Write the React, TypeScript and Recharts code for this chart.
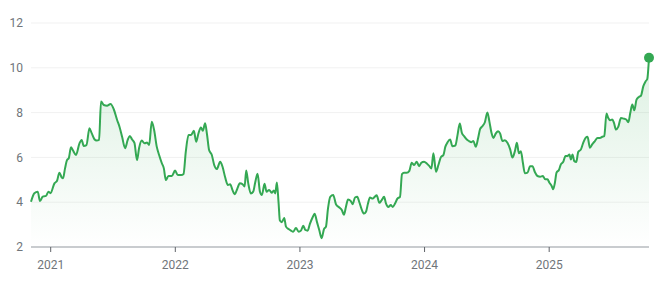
import {
  Area,
  AreaChart,
  CartesianGrid,
  ReferenceDot,
  XAxis,
  YAxis,
} from 'recharts';

// fractional year of each sample
const years = [
  2020.842, 2020.869, 2020.896, 2020.914, 2020.936, 2020.962, 2020.982, 2020.998,
  2021.03, 2021.051, 2021.07, 2021.088, 2021.099, 2021.115, 2021.131, 2021.145,
  2021.163, 2021.177, 2021.203, 2021.231, 2021.249, 2021.265, 2021.287, 2021.311,
  2021.329, 2021.351, 2021.369, 2021.388, 2021.404, 2021.426, 2021.452, 2021.48,
  2021.506, 2021.533, 2021.552, 2021.573, 2021.597, 2021.618, 2021.635, 2021.653,
  2021.672, 2021.693, 2021.709, 2021.731, 2021.753, 2021.773, 2021.79, 2021.811,
  2021.83, 2021.851, 2021.87, 2021.892, 2021.908, 2021.924, 2021.945, 2021.972,
  2021.998, 2022.02, 2022.047, 2022.066, 2022.084, 2022.106, 2022.127, 2022.149,
  2022.167, 2022.186, 2022.205, 2022.221, 2022.239, 2022.255, 2022.271, 2022.293,
  2022.312, 2022.333, 2022.36, 2022.379, 2022.4, 2022.422, 2022.44, 2022.459,
  2022.476, 2022.496, 2022.518, 2022.54, 2022.556, 2022.569, 2022.585, 2022.606,
  2022.625, 2022.641, 2022.66, 2022.679, 2022.695, 2022.716, 2022.732, 2022.753,
  2022.773, 2022.791, 2022.802, 2022.815, 2022.829, 2022.839, 2022.855, 2022.874,
  2022.888, 2022.909, 2022.928, 2022.946, 2022.968, 2022.99, 2023.008, 2023.027,
  2023.043, 2023.062, 2023.08, 2023.102, 2023.118, 2023.137, 2023.155, 2023.174,
  2023.193, 2023.209, 2023.225, 2023.243, 2023.267, 2023.289, 2023.316, 2023.337,
  2023.353, 2023.369, 2023.386, 2023.407, 2023.423, 2023.442, 2023.46, 2023.476,
  2023.496, 2023.514, 2023.53, 2023.546, 2023.562, 2023.584, 2023.6, 2023.616,
  2023.637, 2023.656, 2023.675, 2023.691, 2023.709, 2023.729, 2023.745, 2023.763,
  2023.782, 2023.803, 2023.819, 2023.835, 2023.857, 2023.878, 2023.897, 2023.916,
  2023.937, 2023.956, 2023.974, 2023.996, 2024.018, 2024.039, 2024.055, 2024.071,
  2024.092, 2024.111, 2024.133, 2024.151, 2024.167, 2024.183, 2024.205, 2024.223,
  2024.247, 2024.263, 2024.283, 2024.299, 2024.317, 2024.339, 2024.357, 2024.376,
  2024.392, 2024.411, 2024.43, 2024.446, 2024.464, 2024.484, 2024.504, 2024.52,
  2024.537, 2024.553, 2024.572, 2024.59, 2024.606, 2024.625, 2024.644, 2024.665,
  2024.687, 2024.705, 2024.725, 2024.741, 2024.757, 2024.773, 2024.789, 2024.805,
  2024.826, 2024.847, 2024.866, 2024.885, 2024.906, 2024.928, 2024.949, 2024.968,
  2024.986, 2025.002, 2025.018, 2025.032, 2025.046, 2025.059, 2025.078, 2025.094,
  2025.112, 2025.131, 2025.147, 2025.163, 2025.174, 2025.187, 2025.201, 2025.217,
  2025.233, 2025.255, 2025.273, 2025.292, 2025.308, 2025.327, 2025.345, 2025.367,
  2025.388, 2025.407, 2025.426, 2025.442, 2025.46, 2025.474, 2025.49, 2025.506,
  2025.52, 2025.536, 2025.554, 2025.576, 2025.597, 2025.618, 2025.635, 2025.651,
  2025.667, 2025.683, 2025.701, 2025.72, 2025.737, 2025.755, 2025.773, 2025.787,
  2025.801,
];

const prices = [
  4.02, 4.4, 4.47, 4.05, 4.25, 4.28, 4.47, 4.4,
  4.84, 4.96, 5.32, 5.11, 5.07, 5.51, 5.88, 5.96,
  6.45, 6.33, 6.11, 6.63, 6.78, 6.51, 6.55, 7.3,
  7.08, 6.81, 6.75, 6.78, 8.49, 8.34, 8.31, 8.38,
  8.15, 7.67, 7.37, 6.92, 6.41, 6.78, 6.96, 6.8,
  6.65, 5.88, 6.41, 6.75, 6.63, 6.66, 6.55, 7.59,
  7.22, 6.48, 6.11, 5.74, 5.51, 4.99, 5.17, 5.17,
  5.41, 5.21, 5.21, 5.26, 6.25, 7.0, 7.0, 7.19,
  6.7, 7.08, 7.34, 7.19, 7.52, 7.0, 6.33, 6.11,
  5.66, 5.48, 5.81, 5.58, 5.11, 4.77, 4.8, 4.54,
  4.35, 4.58, 4.85, 4.8, 4.7, 5.42, 4.85, 4.39,
  4.47, 4.88, 5.27, 4.47, 4.32, 4.82, 4.47, 4.55,
  4.42, 4.52, 4.39, 4.88, 3.94, 3.18, 3.11, 3.3,
  2.91, 2.8, 2.73, 2.68, 2.85, 2.68, 2.73, 2.95,
  2.76, 2.73, 3.03, 3.33, 3.48, 3.11, 2.76, 2.39,
  2.8, 2.91, 3.71, 4.24, 4.32, 3.91, 3.76, 3.64,
  3.44, 3.79, 4.12, 4.06, 3.91, 4.21, 4.24, 4.01,
  3.67, 3.49, 3.57, 3.94, 4.21, 4.16, 4.24, 4.31,
  3.97, 4.09, 4.24, 3.94, 3.79, 3.87, 3.79, 3.94,
  4.16, 4.24, 5.25, 5.31, 5.31, 5.4, 5.76, 5.66,
  5.81, 5.61, 5.76, 5.81, 5.73, 5.61, 5.51, 6.18,
  5.36, 5.66, 6.03, 6.1, 6.48, 6.66, 6.8, 6.5,
  6.53, 6.95, 7.51, 7.1, 6.95, 6.8, 6.73, 6.68,
  6.73, 6.47, 6.87, 7.27, 7.39, 7.57, 8.01, 7.61,
  7.1, 6.87, 7.07, 7.17, 7.07, 6.73, 6.77, 6.65,
  6.36, 5.99, 6.28, 6.65, 6.18, 6.28, 5.76, 5.29,
  5.32, 5.61, 5.61, 5.35, 5.17, 5.14, 5.17, 5.02,
  5.02, 4.87, 4.75, 4.58, 4.87, 5.32, 5.44, 5.69,
  5.79, 6.06, 6.06, 6.13, 5.91, 6.13, 5.84, 5.79,
  6.24, 6.36, 6.65, 6.87, 6.92, 6.43, 6.58, 6.73,
  6.87, 6.87, 6.92, 6.95, 7.96, 7.76, 7.66, 7.69,
  7.54, 7.24, 7.36, 7.76, 7.73, 7.69, 7.57, 7.99,
  8.36, 8.1, 8.58, 8.7, 8.76, 9.17, 9.39, 9.5,
  10.45,
];

const yearTicks = [2021, 2022, 2023, 2024, 2025];
const priceTicks = [2, 4, 6, 8, 10, 12];

const data = years.map((t, i) => ({ t, price: prices[i] }));
const last = data[data.length - 1];

const GREEN = '#34a853';
const TEXT = '#70757a';

export default function App() {
  return (
    <div style={{ position: 'absolute', left: 0, top: 0, fontFamily: 'Roboto, Arial, sans-serif' }}>
      <AreaChart width={665} height={287} data={data} margin={{ top: 23, right: 16, bottom: 10, left: 0 }}>
        <defs>
          <linearGradient id="priceFill" x1="0" y1="0" x2="0" y2="1">
            <stop offset="0%" stopColor={GREEN} stopOpacity={0.28} />
            <stop offset="100%" stopColor={GREEN} stopOpacity={0} />
          </linearGradient>
        </defs>
        <CartesianGrid vertical={false} stroke="#f1f1f1" />
        <XAxis
          dataKey="t"
          type="number"
          domain={['dataMin', 'dataMax']}
          ticks={yearTicks}
          tickFormatter={(v) => String(v)}
          height={30}
          tickSize={5}
          tickMargin={8}
          axisLine={{ stroke: '#9aa0a6' }}
          tickLine={{ stroke: '#5f6368' }}
          tick={{ fill: TEXT, fontSize: 12 }}
        />
        <YAxis
          type="number"
          domain={[2, 12]}
          ticks={priceTicks}
          width={31}
          axisLine={false}
          tickLine={false}
          tick={{ fill: TEXT, fontSize: 12 }}
        />
        <Area
          type="monotone"
          dataKey="price"
          stroke={GREEN}
          strokeWidth={2}
          fill="url(#priceFill)"
          baseValue={2}
          dot={false}
          activeDot={false}
          isAnimationActive={false}
        />
        <ReferenceDot x={last.t} y={last.price} r={5} fill={GREEN} stroke="none" />
      </AreaChart>
    </div>
  );
}
